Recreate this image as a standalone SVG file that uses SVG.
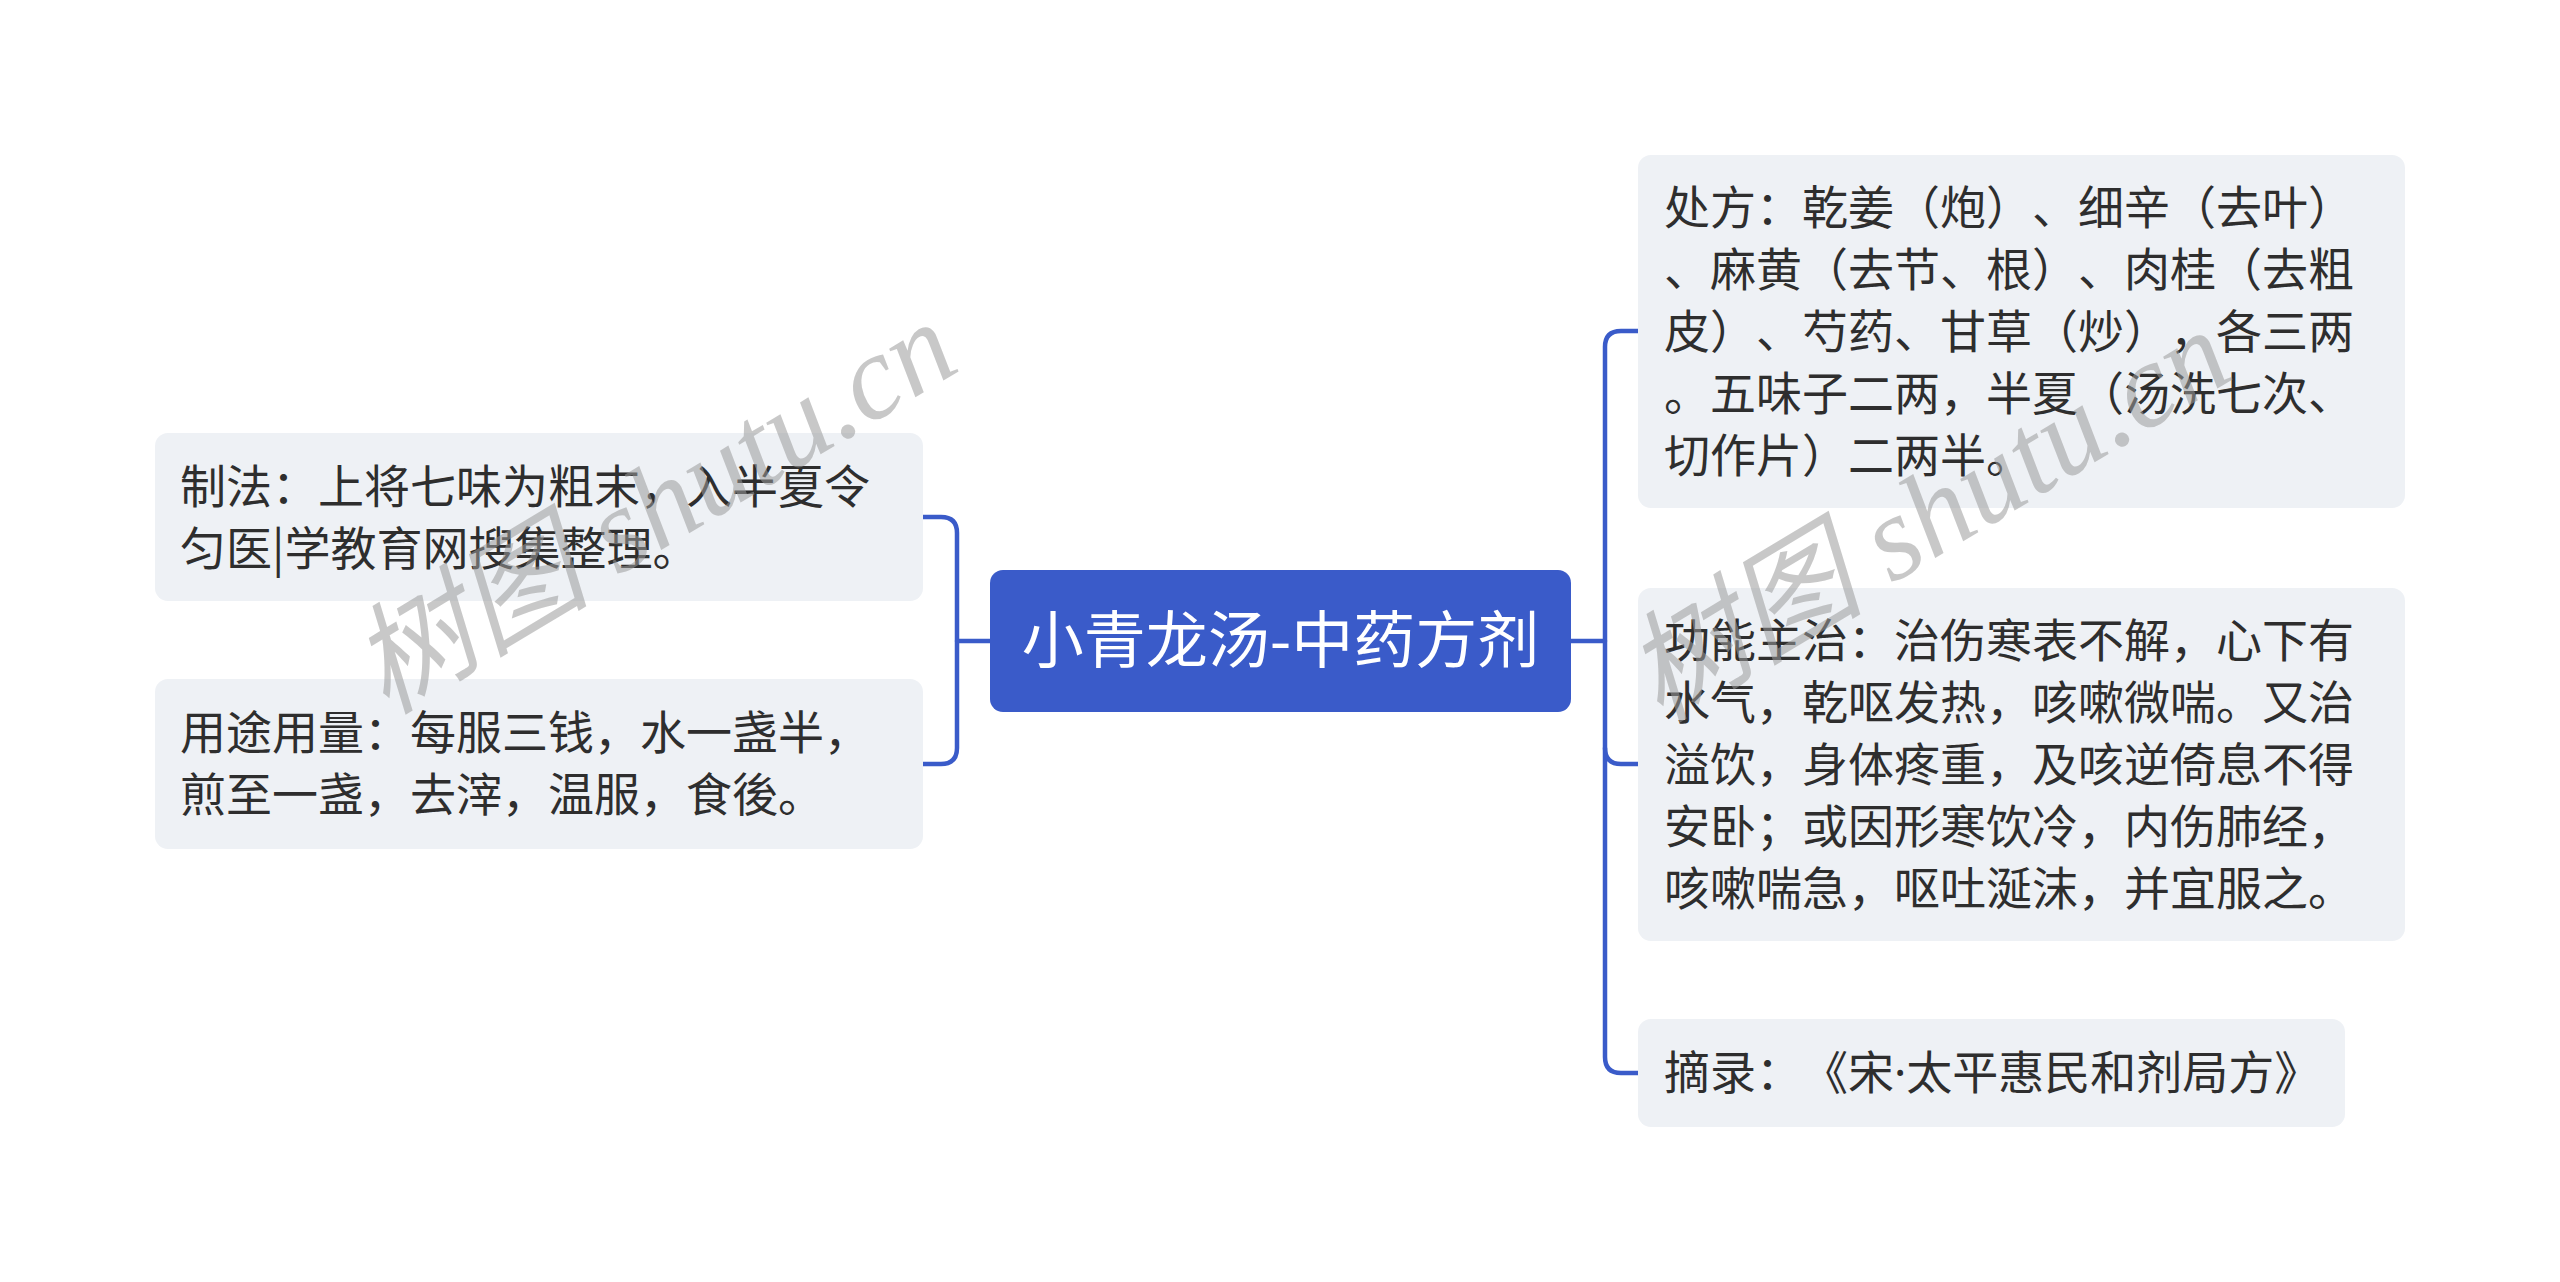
<svg xmlns="http://www.w3.org/2000/svg" width="2560" height="1282" viewBox="0 0 2560 1282">
<style>
.bg{fill:#ffffff}
.box{fill:#eef1f5}
.root{fill:#3a5bc9}
text{text-spacing-trim:space-all;font-kerning:none}
.t{font-family:"Noto Sans CJK SC","Noto Sans",sans-serif;font-size:46px;fill:#2e2e2e}
.rt{font-family:"Noto Sans CJK SC","Noto Sans",sans-serif;font-size:62px;fill:#ffffff}
.dot{font-family:"Noto Sans","Liberation Sans",sans-serif}
.ln{fill:none;stroke:#3a5bc9;stroke-width:4.5;stroke-linecap:round}
.wm{font-family:"Liberation Serif","Noto Sans CJK SC",serif;font-style:italic;font-size:120px;fill:#9a9a9a;fill-opacity:0.55}
</style>
<rect class="bg" x="0" y="0" width="2560" height="1282"/>
<g id="connectors">
<path class="ln" d="M990 641 H957"/>
<path class="ln" d="M923 517 H941 Q957 517 957 533 V748 Q957 764 941 764 H923"/>
<path class="ln" d="M1571 641 H1605"/>
<path class="ln" d="M1638 331 H1621 Q1605 331 1605 347 V1057 Q1605 1073 1621 1073 H1638"/>
<path class="ln" d="M1605 748 Q1605 764 1621 764 H1638"/>
</g>
<g id="root">
<rect class="root" x="990" y="570" width="581" height="142" rx="13"/>
<text class="rt" x="1280.5" y="663" text-anchor="middle">小青龙汤-中药方剂</text>
</g>
<g id="zhifa">
<rect class="box" x="155" y="433" width="768" height="168" rx="13"/>
<text class="t" x="180" y="503">制法：上将七味为粗末，入半夏令</text>
<text class="t" x="180" y="565">匀医|学教育网搜集整理。</text>
</g>
<g id="yongtu">
<rect class="box" x="155" y="679" width="768" height="170" rx="13"/>
<text class="t" x="180" y="749">用途用量：每服三钱，水一盏半，</text>
<text class="t" x="180" y="811">煎至一盏，去滓，温服，食後。</text>
</g>
<g id="chufang">
<rect class="box" x="1638" y="155" width="767" height="353" rx="13"/>
<text class="t" x="1664" y="224">处方：乾姜（炮）、细辛（去叶）</text>
<text class="t" x="1664" y="286">、麻黄（去节、根）、肉桂（去粗</text>
<text class="t" x="1664" y="348">皮）、芍药、甘草（炒），各三两</text>
<text class="t" x="1664" y="410">。五味子二两，半夏（汤洗七次、</text>
<text class="t" x="1664" y="472">切作片）二两半。</text>
</g>
<g id="gongneng">
<rect class="box" x="1638" y="588" width="767" height="353" rx="13"/>
<text class="t" x="1664" y="657">功能主治：治伤寒表不解，心下有</text>
<text class="t" x="1664" y="719">水气，乾呕发热，咳嗽微喘。又治</text>
<text class="t" x="1664" y="781">溢饮，身体疼重，及咳逆倚息不得</text>
<text class="t" x="1664" y="843">安卧；或因形寒饮冷，内伤肺经，</text>
<text class="t" x="1664" y="905">咳嗽喘急，呕吐涎沫，并宜服之。</text>
</g>
<g id="zhailu">
<rect class="box" x="1638" y="1019" width="707" height="108" rx="13"/>
<text class="t" x="1664" y="1089">摘录：《宋<tspan class="dot">·</tspan>太平惠民和剂局方》</text>
</g>
<g id="watermarks">
<text class="wm" x="653" y="548" text-anchor="middle" transform="rotate(-31 653 506)">树图 shutu.cn</text>
<text class="wm" x="1927" y="556" text-anchor="middle" transform="rotate(-31 1927 514)">树图 shutu.cn</text>
</g>
</svg>
